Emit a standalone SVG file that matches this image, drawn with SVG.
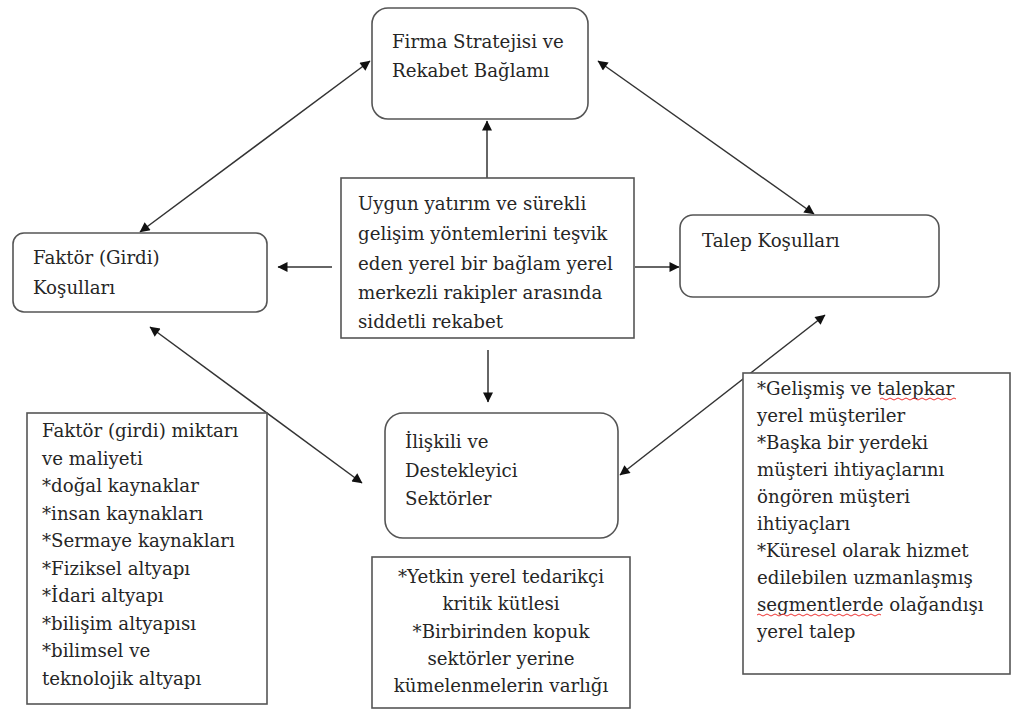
<svg xmlns="http://www.w3.org/2000/svg" width="1012" height="713" viewBox="0 0 1012 713">
<style>
.t{font-family:"DejaVu Serif",serif;font-size:18.2px;fill:#262626}
.rb{fill:#fff;stroke:#555;stroke-width:1.6}
.sb{fill:#fff;stroke:#555;stroke-width:1.6}
.c{stroke:#333;stroke-width:1.5;fill:none}
.sq{stroke:#e33;stroke-width:1;fill:none}
</style>
<defs>
<marker id="ah" viewBox="0 0 10 10" refX="9.5" refY="5" markerUnits="userSpaceOnUse" markerWidth="12" markerHeight="10" orient="auto-start-reverse">
<path d="M0,0 L10,5 L0,10 z" fill="#111"/>
</marker>
</defs>
<rect width="1012" height="713" fill="#fff"/>
<g id="connectors">
<line class="c" x1="140" y1="232" x2="370" y2="61" marker-start="url(#ah)" marker-end="url(#ah)"/>
<line class="c" x1="598" y1="61" x2="814" y2="214" marker-start="url(#ah)" marker-end="url(#ah)"/>
<line class="c" x1="150" y1="327" x2="362" y2="483" marker-start="url(#ah)" marker-end="url(#ah)"/>
<line class="c" x1="825" y1="315" x2="620" y2="475" marker-start="url(#ah)" marker-end="url(#ah)"/>
<line class="c" x1="487" y1="178" x2="487" y2="121" marker-end="url(#ah)"/>
<line class="c" x1="332" y1="267" x2="278" y2="267" marker-end="url(#ah)"/>
<line class="c" x1="635" y1="267" x2="679" y2="267" marker-end="url(#ah)"/>
<line class="c" x1="488" y1="350" x2="488" y2="402" marker-end="url(#ah)"/>
</g>
<g id="firma">
<rect class="rb" x="372" y="8" width="216" height="111" rx="16"/>
<text class="t" x="392" y="48">Firma Stratejisi ve</text>
<text class="t" x="392" y="77">Rekabet Bağlamı</text>
</g>
<g id="merkez">
<rect class="sb" x="341" y="178" width="293" height="160"/>
<text class="t" x="358" y="210">Uygun yatırım ve sürekli</text>
<text class="t" x="358" y="240">gelişim yöntemlerini teşvik</text>
<text class="t" x="358" y="270">eden yerel bir bağlam yerel</text>
<text class="t" x="358" y="299">merkezli rakipler arasında</text>
<text class="t" x="358" y="328">siddetli rekabet</text>
</g>
<g id="faktor">
<rect class="rb" x="13" y="233" width="254" height="79" rx="11"/>
<text class="t" x="33" y="264">Faktör (Girdi)</text>
<text class="t" x="33" y="294">Koşulları</text>
</g>
<g id="talep">
<rect class="rb" x="680" y="215" width="259" height="82" rx="13"/>
<text class="t" x="702" y="247">Talep Koşulları</text>
</g>
<g id="iliskili">
<rect class="rb" x="385" y="413" width="233" height="125" rx="18"/>
<text class="t" x="405" y="448">İlişkili ve</text>
<text class="t" x="405" y="477">Destekleyici</text>
<text class="t" x="405" y="505">Sektörler</text>
</g>
<g id="faktor-detay">
<rect class="sb" x="27" y="413" width="240" height="291"/>
<text class="t" x="42" y="437">Faktör (girdi) miktarı</text>
<text class="t" x="42" y="464.5">ve maliyeti</text>
<text class="t" x="42" y="492">*doğal kaynaklar</text>
<text class="t" x="42" y="519.5">*insan kaynakları</text>
<text class="t" x="42" y="547">*Sermaye kaynakları</text>
<text class="t" x="42" y="574.5">*Fiziksel altyapı</text>
<text class="t" x="42" y="602">*İdari altyapı</text>
<text class="t" x="42" y="629.5">*bilişim altyapısı</text>
<text class="t" x="42" y="657">*bilimsel ve</text>
<text class="t" x="42" y="684.5">teknolojik altyapı</text>
</g>
<g id="sektor-detay">
<rect class="sb" x="372" y="557" width="258" height="151"/>
<text class="t" x="501" y="583" text-anchor="middle">*Yetkin yerel tedarikçi</text>
<text class="t" x="501" y="610" text-anchor="middle">kritik kütlesi</text>
<text class="t" x="501" y="638" text-anchor="middle">*Birbirinden kopuk</text>
<text class="t" x="501" y="665" text-anchor="middle">sektörler yerine</text>
<text class="t" x="501" y="692" text-anchor="middle">kümelenmelerin varlığı</text>
</g>
<g id="talep-detay">
<rect class="sb" x="743" y="373" width="267" height="301"/>
<text class="t" x="757" y="395">*Gelişmiş ve talepkar</text>
<text class="t" x="757" y="422">yerel müşteriler</text>
<text class="t" x="757" y="449">*Başka bir yerdeki</text>
<text class="t" x="757" y="476">müşteri ihtiyaçlarını</text>
<text class="t" x="757" y="503">öngören müşteri</text>
<text class="t" x="757" y="530">ihtiyaçları</text>
<text class="t" x="757" y="557">*Küresel olarak hizmet</text>
<text class="t" x="757" y="584">edilebilen uzmanlaşmış</text>
<text class="t" x="757" y="611">segmentlerde olağandışı</text>
<text class="t" x="757" y="638">yerel talep</text>
<path class="sq" d="M880,399 q2,-2 4,0 t4,0 t4,0 t4,0 t4,0 t4,0 t4,0 t4,0 t4,0 t4,0 t4,0 t4,0 t4,0 t4,0 t4,0 t4,0 t4,0 t4,0 t4,0"/>
<path class="sq" d="M757,615 q2,-2 4,0 t4,0 t4,0 t4,0 t4,0 t4,0 t4,0 t4,0 t4,0 t4,0 t4,0 t4,0 t4,0 t4,0 t4,0 t4,0 t4,0 t4,0 t4,0 t4,0 t4,0 t4,0 t4,0 t4,0 t4,0 t4,0 t4,0 t4,0 t4,0 t4,0 t4,0"/>
</g>
</svg>
